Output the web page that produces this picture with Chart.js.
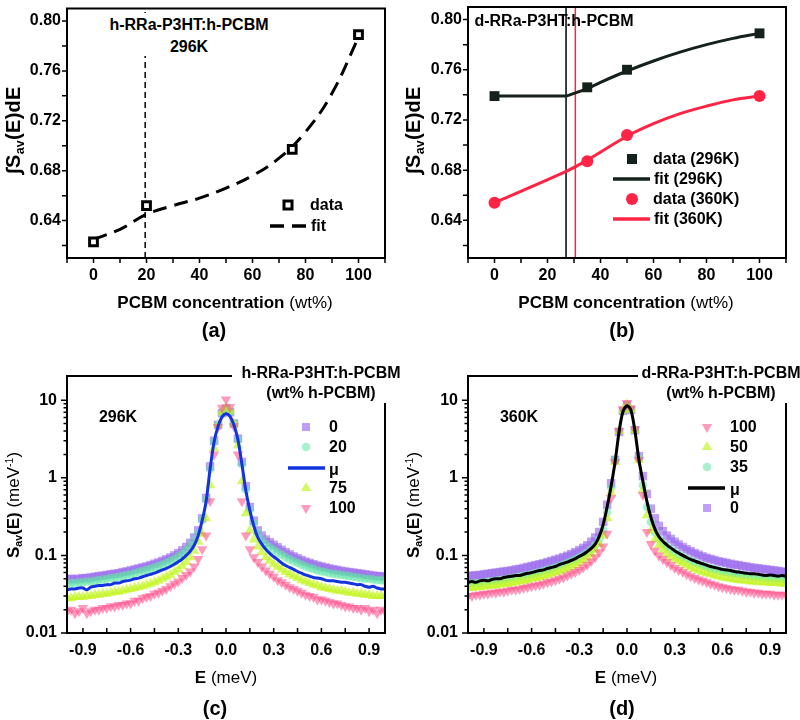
<!DOCTYPE html>
<html><head><meta charset="utf-8">
<script src="https://cdn.jsdelivr.net/npm/chart.js@4.4.1/dist/chart.umd.min.js"></script>
<style>
html,body{margin:0;padding:0;background:#fff;}
#wrap{position:relative;width:800px;height:720px;overflow:hidden;background:#fff;font-family:"Liberation Sans",Arial,Helvetica,sans-serif;color:#000;}
canvas{position:absolute;}
.t{position:absolute;white-space:nowrap;font-weight:bold;transform:translate(-50%,-50%);line-height:1;}
.n{font-weight:normal;}
.l{position:absolute;white-space:nowrap;font-weight:bold;font-size:16px;transform:translateY(-50%);line-height:1;}
.rot{transform:translate(-50%,-50%) rotate(-90deg);}
sub{font-size:0.62em;vertical-align:-0.3em;line-height:0;}
sup{font-size:0.62em;vertical-align:0.55em;line-height:0;}
.box{position:absolute;background:#fff;}
</style></head><body>
<div id="wrap">
<canvas id="ca" width="400" height="360" style="left:0;top:0;width:400px;height:360px"></canvas>
<canvas id="cb" width="400" height="360" style="left:400px;top:0;width:400px;height:360px"></canvas>
<canvas id="cc" width="400" height="360" style="left:0;top:360px;width:400px;height:360px"></canvas>
<canvas id="cd" width="400" height="360" style="left:400px;top:360px;width:400px;height:360px"></canvas>

<!-- panel (a) texts -->
<div class="box" style="left:105px;top:13px;width:168px;height:43px;"></div>
<div class="t" style="left:189px;top:25px;font-size:16px;">h-RRa-P3HT:h-PCBM</div>
<div class="t" style="left:189px;top:47px;font-size:16px;">296K</div>
<div class="l" style="left:310px;top:205px;">data</div>
<div class="l" style="left:311px;top:226px;">fit</div>
<div class="t rot" style="left:13px;top:130px;font-size:20px;letter-spacing:0.3px;">&int;S<sub>av</sub>(E)dE</div>
<div class="t" style="left:225px;top:302px;font-size:17px;">PCBM concentration <span class="n">(wt%)</span></div>
<div class="t" style="left:214px;top:330px;font-size:20px;">(a)</div>

<!-- panel (b) texts -->
<div class="t" style="left:554px;top:21px;font-size:16px;">d-RRa-P3HT:h-PCBM</div>
<div class="l" style="left:653px;top:159px;">data (296K)</div>
<div class="l" style="left:654px;top:179px;">fit (296K)</div>
<div class="l" style="left:653px;top:199px;">data (360K)</div>
<div class="l" style="left:654px;top:219px;">fit (360K)</div>
<div class="t rot" style="left:413px;top:130px;font-size:20px;letter-spacing:0.3px;">&int;S<sub>av</sub>(E)dE</div>
<div class="t" style="left:626px;top:302px;font-size:17px;">PCBM concentration <span class="n">(wt%)</span></div>
<div class="t" style="left:622px;top:330px;font-size:20px;">(b)</div>

<!-- panel (c) texts -->
<div class="box" style="left:232px;top:361px;width:168px;height:42px;"></div>
<div class="t" style="left:321px;top:373px;font-size:16px;">h-RRa-P3HT:h-PCBM</div>
<div class="t" style="left:321px;top:393px;font-size:16px;">(wt% h-PCBM)</div>
<div class="t" style="left:118px;top:417px;font-size:16px;">296K</div>
<div class="l" style="left:329px;top:427px;">0</div>
<div class="l" style="left:329px;top:447px;">20</div>
<div class="l n" style="left:329px;top:470px;">&mu;</div>
<div class="l" style="left:329px;top:488px;">75</div>
<div class="l" style="left:329px;top:508px;">100</div>
<div class="t rot" style="left:13px;top:505px;font-size:17px;">S<sub>av</sub>(E) <span class="n">(meV<sup>-1</sup>)</span></div>
<div class="t" style="left:226px;top:677px;font-size:17px;">E <span class="n">(meV)</span></div>
<div class="t" style="left:215px;top:708px;font-size:20px;">(c)</div>

<!-- panel (d) texts -->
<div class="box" style="left:638px;top:361px;width:162px;height:42px;"></div>
<div class="t" style="left:721px;top:373px;font-size:16px;">d-RRa-P3HT:h-PCBM</div>
<div class="t" style="left:721px;top:393px;font-size:16px;">(wt% h-PCBM)</div>
<div class="t" style="left:519px;top:417px;font-size:16px;">360K</div>
<div class="l" style="left:730px;top:427px;">100</div>
<div class="l" style="left:730px;top:447px;">50</div>
<div class="l" style="left:730px;top:467px;">35</div>
<div class="l n" style="left:730px;top:490px;">&mu;</div>
<div class="l" style="left:730px;top:508px;">0</div>
<div class="t rot" style="left:413px;top:505px;font-size:17px;">S<sub>av</sub>(E) <span class="n">(meV<sup>-1</sup>)</span></div>
<div class="t" style="left:626px;top:677px;font-size:17px;">E <span class="n">(meV)</span></div>
<div class="t" style="left:622px;top:708px;font-size:20px;">(d)</div>
</div>

<script>
// ---------- panel (a) ----------
const wtA = [0, 20, 75, 100];
const intA = [0.623, 0.652, 0.697, 0.789];
const fitXA = [0, 10, 20, 30, 40, 50, 60, 70, 80, 90, 100];
const fitA = [0.625, 0.633, 0.645, 0.652, 0.658, 0.666, 0.676, 0.690, 0.711, 0.742, 0.787];
const lineA = 19.5;

// ---------- panel (b) ----------
const wtB = [0, 35, 50, 100];
const intB296 = [0.739, 0.746, 0.760, 0.789];
const intB360 = [0.654, 0.687, 0.708, 0.739];
const flatXB296 = [0, 27];
const flatB296 = [0.739, 0.739];
const fitXB296 = [27, 35, 40, 50, 60, 70, 80, 90, 100];
const fitB296 = [0.739, 0.745, 0.750, 0.759, 0.767, 0.774, 0.780, 0.785, 0.789];
const fitXB360 = [0, 27, 35, 50, 60, 70, 80, 90, 100];
const fitB360 = [0.654, 0.679, 0.688, 0.707, 0.717, 0.725, 0.731, 0.736, 0.739];
const lineB296 = 27, lineB360 = 30.5;

// shared axes of (a),(b)
const yMinAB = 0.61, yMaxAB = 0.81;
const xTicksAB = [-10, 0, 10, 20, 30, 40, 50, 60, 70, 80, 90, 100, 110];
const xLabelsAB = [0, 20, 40, 60, 80, 100];
const yTicksAB = [0.62, 0.64, 0.66, 0.68, 0.70, 0.72, 0.74, 0.76, 0.78, 0.80];
const yLabelsAB = [0.64, 0.68, 0.72, 0.76, 0.80];

// ---------- panels (c),(d): energy grid ----------
const energy = [-1,-0.975,-0.95,-0.925,-0.9,-0.875,-0.85,-0.825,-0.8,-0.775,-0.75,-0.725,-0.7,-0.675,-0.65,-0.625,-0.6,-0.575,-0.55,-0.525,-0.5,-0.475,-0.45,-0.425,-0.4,-0.375,-0.35,-0.325,-0.3,-0.275,-0.25,-0.225,-0.2,-0.175,-0.15,-0.125,-0.1,-0.075,-0.05,-0.025,0,
0.025,0.05,0.075,0.1,0.125,0.15,0.175,0.2,0.225,0.25,0.275,0.3,0.325,0.35,0.375,0.4,0.425,0.45,0.475,0.5,0.525,0.55,0.575,0.6,0.625,0.65,0.675,0.7,0.725,0.75,0.775,0.8,0.825,0.85,0.875,0.9,0.925,0.95,0.975,1];

// (c) h-RRa-P3HT:h-PCBM, 296K
const c_0 = [0.049,0.050,0.049,0.050,0.051,0.051,0.052,0.053,0.054,0.055,0.056,0.057,0.058,0.059,0.061,0.062,0.064,0.066,0.068,0.070,0.072,0.075,0.078,0.081,0.085,0.089,0.094,0.100,0.107,0.116,0.128,0.145,0.170,0.21,0.30,0.55,1.4,3.0,4.8,6.8,7.8,
7.0,5.0,3.2,1.6,0.78,0.42,0.28,0.21,0.18,0.16,0.148,0.137,0.127,0.118,0.110,0.103,0.097,0.092,0.087,0.083,0.080,0.077,0.074,0.072,0.070,0.068,0.066,0.065,0.063,0.062,0.061,0.060,0.059,0.058,0.057,0.056,0.055,0.054,0.054,0.053];
const c_20 = [0.043,0.044,0.044,0.045,0.045,0.046,0.046,0.047,0.048,0.049,0.050,0.051,0.052,0.053,0.054,0.056,0.057,0.059,0.061,0.063,0.065,0.067,0.070,0.073,0.076,0.080,0.085,0.090,0.097,0.105,0.116,0.131,0.155,0.195,0.29,0.52,1.3,2.9,4.8,6.8,7.8,
7.0,5.0,3.1,1.5,0.70,0.39,0.26,0.195,0.16,0.14,0.128,0.118,0.110,0.102,0.095,0.089,0.084,0.080,0.076,0.072,0.069,0.067,0.064,0.062,0.061,0.059,0.058,0.057,0.056,0.055,0.054,0.053,0.052,0.051,0.050,0.050,0.049,0.048,0.048,0.047];
const c_mu = [0.036,0.037,0.037,0.038,0.038,0.036,0.039,0.040,0.041,0.041,0.042,0.042,0.044,0.044,0.046,0.047,0.048,0.050,0.051,0.053,0.055,0.057,0.059,0.062,0.065,0.068,0.072,0.077,0.083,0.090,0.100,0.113,0.135,0.18,0.28,0.50,1.3,2.9,4.6,6.1,6.7,
6.2,4.8,3.1,1.5,0.68,0.38,0.24,0.17,0.14,0.12,0.106,0.096,0.088,0.080,0.074,0.070,0.066,0.062,0.059,0.056,0.054,0.052,0.051,0.050,0.048,0.047,0.047,0.046,0.045,0.045,0.044,0.043,0.042,0.042,0.040,0.039,0.040,0.038,0.037,0.037];
const c_75 = [0.028,0.028,0.029,0.029,0.029,0.030,0.030,0.031,0.031,0.032,0.032,0.033,0.034,0.034,0.035,0.036,0.037,0.038,0.039,0.040,0.042,0.043,0.045,0.047,0.050,0.053,0.056,0.061,0.066,0.073,0.082,0.095,0.115,0.15,0.19,0.30,0.8,2.4,4.8,7.0,8.0,
7.2,5.0,2.6,0.9,0.35,0.21,0.16,0.13,0.11,0.095,0.085,0.077,0.071,0.066,0.061,0.057,0.054,0.051,0.048,0.046,0.044,0.042,0.041,0.039,0.038,0.037,0.036,0.035,0.035,0.034,0.033,0.033,0.032,0.032,0.031,0.031,0.030,0.030,0.030,0.030];
const c_100 = [0.019,0.020,0.018,0.019,0.021,0.018,0.019,0.020,0.020,0.021,0.021,0.022,0.022,0.023,0.023,0.024,0.024,0.026,0.026,0.028,0.029,0.030,0.032,0.033,0.035,0.037,0.040,0.043,0.046,0.051,0.056,0.062,0.072,0.090,0.12,0.18,0.5,2.0,4.5,8.0,10.2,
8.2,4.6,2.0,0.5,0.18,0.12,0.095,0.082,0.072,0.064,0.058,0.053,0.048,0.045,0.042,0.039,0.037,0.035,0.033,0.031,0.030,0.029,0.027,0.027,0.026,0.025,0.024,0.024,0.023,0.022,0.022,0.021,0.021,0.020,0.021,0.019,0.020,0.018,0.020,0.019];

// (d) d-RRa-P3HT:h-PCBM, 360K
const d_100 = [0.030,0.030,0.031,0.031,0.032,0.032,0.033,0.033,0.034,0.034,0.035,0.036,0.036,0.037,0.038,0.039,0.040,0.041,0.042,0.043,0.045,0.046,0.048,0.050,0.052,0.055,0.058,0.061,0.065,0.070,0.076,0.084,0.095,0.11,0.13,0.19,0.55,1.6,4.0,7.6,9.2,
7.8,4.2,1.7,0.6,0.2,0.14,0.115,0.10,0.090,0.082,0.075,0.069,0.065,0.061,0.057,0.054,0.051,0.049,0.047,0.045,0.043,0.042,0.040,0.039,0.038,0.037,0.036,0.036,0.035,0.034,0.034,0.033,0.033,0.032,0.032,0.032,0.031,0.031,0.031,0.031];
const d_50 = [0.038,0.038,0.039,0.039,0.040,0.040,0.041,0.041,0.042,0.043,0.043,0.044,0.045,0.046,0.047,0.048,0.050,0.051,0.052,0.054,0.056,0.058,0.060,0.062,0.065,0.068,0.072,0.076,0.081,0.087,0.094,0.104,0.118,0.14,0.18,0.30,0.65,1.6,4.0,7.4,8.8,
7.6,4.1,1.7,0.7,0.33,0.21,0.16,0.135,0.118,0.106,0.097,0.090,0.084,0.079,0.074,0.070,0.067,0.064,0.061,0.059,0.057,0.055,0.054,0.052,0.051,0.050,0.049,0.048,0.048,0.047,0.046,0.046,0.045,0.045,0.045,0.044,0.044,0.044,0.043,0.043];
const d_35 = [0.043,0.043,0.044,0.044,0.045,0.046,0.046,0.047,0.048,0.049,0.050,0.051,0.052,0.053,0.054,0.056,0.057,0.059,0.061,0.063,0.065,0.067,0.070,0.073,0.076,0.080,0.084,0.089,0.094,0.101,0.109,0.12,0.135,0.16,0.21,0.36,0.75,1.7,4.0,7.4,8.6,
7.6,4.1,1.8,0.8,0.42,0.27,0.2,0.165,0.145,0.13,0.12,0.11,0.102,0.096,0.090,0.085,0.081,0.077,0.074,0.071,0.068,0.066,0.064,0.062,0.061,0.059,0.058,0.057,0.056,0.055,0.054,0.053,0.053,0.052,0.051,0.051,0.050,0.050,0.049,0.049];
const d_mu = [0.045,0.046,0.045,0.047,0.048,0.047,0.049,0.050,0.050,0.052,0.053,0.054,0.055,0.055,0.057,0.059,0.060,0.062,0.064,0.065,0.068,0.070,0.072,0.076,0.079,0.082,0.086,0.091,0.097,0.103,0.112,0.123,0.14,0.175,0.25,0.42,0.78,1.6,3.9,7.2,8.5,
7.4,4.0,1.7,0.9,0.50,0.31,0.22,0.175,0.152,0.137,0.125,0.115,0.107,0.100,0.094,0.089,0.085,0.081,0.078,0.075,0.072,0.070,0.068,0.066,0.065,0.064,0.062,0.061,0.060,0.059,0.058,0.058,0.057,0.056,0.055,0.056,0.055,0.054,0.055,0.054];
const d_0 = [0.054,0.055,0.055,0.056,0.057,0.058,0.059,0.060,0.061,0.062,0.063,0.064,0.066,0.067,0.069,0.071,0.073,0.075,0.077,0.079,0.082,0.085,0.088,0.091,0.095,0.099,0.104,0.110,0.117,0.125,0.135,0.15,0.17,0.2,0.27,0.45,0.85,1.7,3.9,7.3,8.6,
7.5,4.1,1.9,1.05,0.62,0.40,0.30,0.24,0.205,0.18,0.163,0.150,0.138,0.128,0.120,0.113,0.107,0.102,0.097,0.093,0.090,0.087,0.084,0.082,0.080,0.078,0.076,0.075,0.073,0.072,0.070,0.069,0.068,0.067,0.066,0.065,0.064,0.063,0.062,0.061];

// shared axes of (c),(d)
const xMinCD = -1, xMaxCD = 1, yMinCD = 0.01, yMaxCD = 20.5;
const xTicksCD = [-0.9,-0.75,-0.6,-0.45,-0.3,-0.15,0,0.15,0.3,0.45,0.6,0.75,0.9];
const xLabelsCD = [-0.9,-0.6,-0.3,0,0.3,0.6,0.9];
const yTicksCD = [0.01,0.02,0.03,0.04,0.05,0.06,0.07,0.08,0.09,0.1,0.2,0.3,0.4,0.5,0.6,0.7,0.8,0.9,1,2,3,4,5,6,7,8,9,10];
const yLabelsCD = [0.01, 0.1, 1, 10];

// ---------- colours ----------
const C_PURPLE = 'rgba(150,100,235,0.62)';
const C_GREEN = 'rgba(95,230,165,0.55)';
const C_YELLOW = 'rgba(195,245,30,0.68)';
const C_PINK = 'rgba(255,75,135,0.56)';
const C_BLUE = '#1233e0';
const C_DARK = '#15221b';
const C_RED = '#ff2443';
const FONT = '"Liberation Sans", Arial, Helvetica, sans-serif';

function pts(xs, ys) { return xs.map((x, i) => ({x: x, y: ys[i]})); }
function near(v, list) { return list.some(u => Math.abs(u - v) < 1e-9 * Math.max(1, Math.abs(u))); }

function makeFrame(cfg) {
  return {
    id: 'frame',
    afterDatasetsDraw(chart) {
      const ctx = chart.ctx, a = chart.chartArea;
      const xs = chart.scales.x, ys = chart.scales.y;
      ctx.save();
      ctx.strokeStyle = '#000';
      ctx.lineWidth = 2;
      ctx.strokeRect(a.left, a.top, a.right - a.left, a.bottom - a.top);
      ctx.lineWidth = 1.5;
      ctx.beginPath();
      xs.ticks.forEach(t => {
        const px = xs.getPixelForValue(t.value);
        ctx.moveTo(px, a.bottom);
        ctx.lineTo(px, a.bottom + (cfg.xIn ? -cfg.xLen : cfg.xLen));
      });
      ys.ticks.forEach(t => {
        const py = ys.getPixelForValue(t.value);
        const len = cfg.yMajors ? (near(t.value, cfg.yMajors) ? cfg.yLen : cfg.yMinorLen) : cfg.yLen;
        ctx.moveTo(a.left, py);
        ctx.lineTo(a.left - len, py);
      });
      ctx.stroke();
      ctx.restore();
    }
  };
}

function makeLegend(items) {
  return {
    id: 'legendMarks',
    afterDraw(chart) {
      const ctx = chart.ctx;
      ctx.save();
      items.forEach(it => {
        ctx.beginPath();
        ctx.setLineDash([]);
        if (it.t === 'rect') {
          ctx.fillStyle = it.c; ctx.fillRect(it.x - it.s / 2, it.y - it.s / 2, it.s, it.s);
        } else if (it.t === 'openRect') {
          ctx.strokeStyle = it.c; ctx.lineWidth = 3; ctx.strokeRect(it.x - it.s / 2, it.y - it.s / 2, it.s, it.s);
        } else if (it.t === 'circle') {
          ctx.fillStyle = it.c; ctx.arc(it.x, it.y, it.s, 0, Math.PI * 2); ctx.fill();
        } else if (it.t === 'tri' || it.t === 'triDown') {
          const d = it.t === 'tri' ? 1 : -1, r = it.s;
          ctx.fillStyle = it.c;
          ctx.moveTo(it.x, it.y - d * r);
          ctx.lineTo(it.x + r * 0.866, it.y + d * r * 0.5);
          ctx.lineTo(it.x - r * 0.866, it.y + d * r * 0.5);
          ctx.closePath(); ctx.fill();
        } else if (it.t === 'line' || it.t === 'dash') {
          ctx.strokeStyle = it.c; ctx.lineWidth = 3.5;
          if (it.t === 'dash') ctx.setLineDash([14, 8]);
          ctx.moveTo(it.x1, it.y); ctx.lineTo(it.x2, it.y); ctx.stroke();
        }
      });
      ctx.restore();
    }
  };
}

const tickFont = {family: FONT, size: 16, weight: 'bold'};

function fixX(h) { return s => { s.height = h; s.paddingLeft = 0; s.paddingRight = 0; s.paddingTop = 0; s.paddingBottom = 0; }; }
function fixY(w) { return s => { s.width = w; s.paddingTop = 0; s.paddingBottom = 0; s.paddingLeft = 0; s.paddingRight = 0; }; }

function topChart(id, L, R, datasets, legendItems) {
  return new Chart(document.getElementById(id), {
    type: 'scatter',
    data: {datasets: datasets},
    options: {
      responsive: false, animation: false, devicePixelRatio: 1,
      layout: {padding: {left: 0, right: 400 - R, top: 3, bottom: 0}},
      plugins: {legend: {display: false}, tooltip: {enabled: false}},
      scales: {
        x: {
          type: 'linear', min: xTicksAB[0], max: xTicksAB[xTicksAB.length - 1],
          afterBuildTicks: s => { s.ticks = xTicksAB.map(v => ({value: v})); },
          afterFit: fixX(102),
          grid: {display: false, drawTicks: false}, border: {display: false},
          ticks: {autoSkip: false, maxRotation: 0, padding: 8, color: '#000', font: tickFont,
            callback: v => near(v, xLabelsAB) ? String(v) : ''}
        },
        y: {
          type: 'linear', min: yMinAB, max: yMaxAB,
          afterBuildTicks: s => { s.ticks = yTicksAB.map(v => ({value: v})); },
          afterFit: fixY(L),
          grid: {display: false, drawTicks: false}, border: {display: false},
          ticks: {autoSkip: false, padding: 6, color: '#000', font: tickFont,
            callback: v => near(v, yLabelsAB) ? v.toFixed(2) : ''}
        }
      }
    },
    plugins: [makeFrame({xLen: 5, xIn: false, yLen: 5}), makeLegend(legendItems)]
  });
}

function bottomChart(id, L, R, datasets, legendItems) {
  return new Chart(document.getElementById(id), {
    type: 'scatter',
    data: {datasets: datasets},
    options: {
      responsive: false, animation: false, devicePixelRatio: 1,
      layout: {padding: {left: 0, right: 400 - R, top: 16, bottom: 0}},
      plugins: {legend: {display: false}, tooltip: {enabled: false}},
      scales: {
        x: {
          type: 'linear', min: xMinCD, max: xMaxCD,
          afterBuildTicks: s => { s.ticks = xTicksCD.map(v => ({value: v})); },
          afterFit: fixX(87),
          grid: {display: false, drawTicks: false}, border: {display: false},
          ticks: {autoSkip: false, maxRotation: 0, padding: 8, color: '#000', font: tickFont,
            callback: v => near(v, xLabelsCD) ? v.toFixed(1) : ''}
        },
        y: {
          type: 'logarithmic', min: yMinCD, max: yMaxCD,
          afterBuildTicks: s => { s.ticks = yTicksCD.map(v => ({value: v})); },
          afterFit: fixY(L),
          grid: {display: false, drawTicks: false}, border: {display: false},
          ticks: {autoSkip: false, padding: 10, color: '#000', font: tickFont,
            callback: v => near(v, yLabelsCD) ? String(v) : ''}
        }
      }
    },
    plugins: [makeFrame({xLen: 5, xIn: true, yLen: 6, yMinorLen: 3.5, yMajors: yLabelsCD}), makeLegend(legendItems)]
  });
}

function markers(ys, style, color, radius, rot) {
  return {data: pts(energy, ys), showLine: false, pointStyle: style, pointRadius: radius,
    pointRotation: rot || 0, backgroundColor: color, borderWidth: 0, borderColor: color};
}
function meanLine(ys, color) {
  return {data: pts(energy, ys), showLine: true, pointRadius: 0, borderColor: color, borderWidth: 3,
    tension: 0.3, fill: false};
}

// (a)
topChart('ca', 67, 385, [
  {data: pts(wtA, intA), showLine: false, pointStyle: 'rect', pointRadius: 5.5, borderWidth: 3,
    borderColor: '#000', backgroundColor: '#fff'},
  {data: pts(fitXA, fitA), showLine: true, pointRadius: 0, borderColor: '#000', borderWidth: 3,
    borderDash: [14, 8], tension: 0.4, fill: false},
  {data: pts([lineA, lineA], [yMinAB, yMaxAB]), showLine: true, pointRadius: 0, borderColor: '#000',
    borderWidth: 1.5, borderDash: [6, 4]}
], [
  {t: 'openRect', x: 288, y: 205, s: 8, c: '#000'},
  {t: 'dash', x1: 270, x2: 306, y: 226, c: '#000'}
]);

// (b)
topChart('cb', 68, 386, [
  {data: pts(wtB, intB296), showLine: false, pointStyle: 'rect', pointRadius: 7, backgroundColor: C_DARK, borderWidth: 0},
  {data: pts(wtB, intB360), showLine: false, pointStyle: 'circle', pointRadius: 6, backgroundColor: C_RED, borderWidth: 0},
  {data: pts(flatXB296, flatB296), showLine: true, pointRadius: 0, borderColor: C_DARK, borderWidth: 3, fill: false},
  {data: pts(fitXB296, fitB296), showLine: true, pointRadius: 0, borderColor: C_DARK, borderWidth: 3,
    tension: 0.35, fill: false},
  {data: pts(fitXB360, fitB360), showLine: true, pointRadius: 0, borderColor: C_RED, borderWidth: 3,
    tension: 0.35, fill: false},
  {data: pts([lineB296, lineB296], [yMinAB, yMaxAB]), showLine: true, pointRadius: 0, borderColor: '#000', borderWidth: 1.5},
  {data: pts([lineB360, lineB360], [yMinAB, yMaxAB]), showLine: true, pointRadius: 0, borderColor: C_RED, borderWidth: 1.5}
], [
  {t: 'rect', x: 232, y: 159, s: 10, c: C_DARK},
  {t: 'line', x1: 213, x2: 250, y: 179, c: C_DARK},
  {t: 'circle', x: 232, y: 199, s: 6, c: C_RED},
  {t: 'line', x1: 213, x2: 250, y: 219, c: C_RED}
]);

// (c)
bottomChart('cc', 67, 385, [
  meanLine(c_mu, C_BLUE),
  markers(c_100, 'triangle', C_PINK, 6, 180),
  markers(c_75, 'triangle', C_YELLOW, 6, 0),
  markers(c_20, 'circle', C_GREEN, 4.3, 0),
  markers(c_0, 'rect', C_PURPLE, 6, 0)
], [
  {t: 'rect', x: 306, y: 67, s: 8, c: C_PURPLE},
  {t: 'circle', x: 306, y: 87, s: 4.3, c: C_GREEN},
  {t: 'line', x1: 288, x2: 325, y: 108, c: C_BLUE},
  {t: 'tri', x: 306, y: 128, s: 6, c: C_YELLOW},
  {t: 'triDown', x: 306, y: 148, s: 6, c: C_PINK}
]);

// (d)
bottomChart('cd', 68, 386, [
  meanLine(d_mu, '#000'),
  markers(d_100, 'triangle', C_PINK, 6, 180),
  markers(d_50, 'triangle', C_YELLOW, 6, 0),
  markers(d_35, 'circle', C_GREEN, 4.3, 0),
  markers(d_0, 'rect', C_PURPLE, 6, 0)
], [
  {t: 'triDown', x: 307, y: 67, s: 6, c: C_PINK},
  {t: 'tri', x: 307, y: 87, s: 6, c: C_YELLOW},
  {t: 'circle', x: 307, y: 107, s: 4.3, c: C_GREEN},
  {t: 'line', x1: 288, x2: 325, y: 128, c: '#000'},
  {t: 'rect', x: 307, y: 148, s: 8, c: C_PURPLE}
]);
</script>
</body></html>
